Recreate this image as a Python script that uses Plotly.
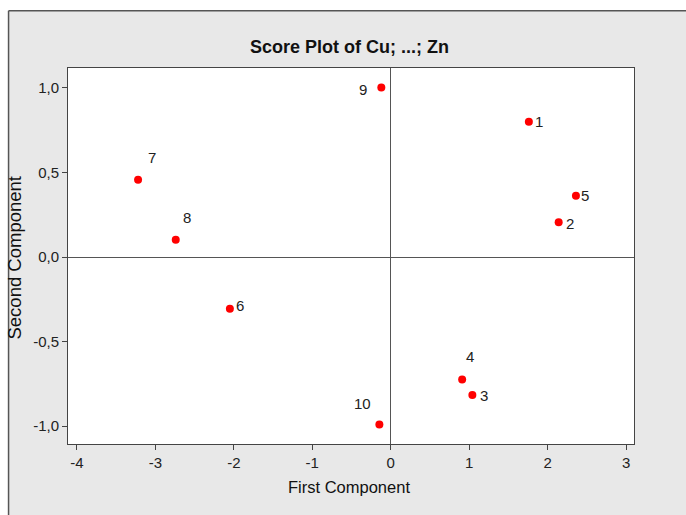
import plotly.graph_objects as go

# Data
obs_labels = ["1", "2", "3", "4", "5", "6", "7", "8", "9", "10"]
first_comp = [1.76, 2.14, 1.04, 0.91, 2.36, -2.05, -3.22, -2.74, -0.12, -0.145]
second_comp = [0.80, 0.206, -0.816, -0.724, 0.363, -0.305, 0.458, 0.102, 1.003, -0.99]
x_ticks = [-4, -3, -2, -1, 0, 1, 2, 3]
x_ticktext = ["-4", "-3", "-2", "-1", "0", "1", "2", "3"]
y_ticks = [-1.0, -0.5, 0.0, 0.5, 1.0]
y_ticktext = ["-1,0", "-0,5", "0,0", "0,5", "1,0"]

# label offsets in pixels (style)
label_shift = {
    "1": (10, 0), "2": (11, -1), "3": (12, 0), "4": (8, 23), "5": (9, 0),
    "6": (10, 3), "7": (14, 22), "8": (11, 22), "9": (-18, -2), "10": (-17, 21),
}

W, H = 686, 515
L, R, T, B = 67.5, 634, 67.5, 444.5
pw, ph = R - L, B - T

def px(x):
    return (x - L) / pw

def py(y):
    return (B - y) / ph

FONT = "Liberation Sans, Arial, sans-serif"

fig = go.Figure()
fig.add_trace(go.Scatter(
    x=first_comp, y=second_comp, mode="markers",
    marker=dict(color="#FF0000", size=8, line=dict(width=0)),
    hoverinfo="skip", showlegend=False,
))

annotations = []
for lab, xv, yv in zip(obs_labels, first_comp, second_comp):
    dx, dy = label_shift[lab]
    annotations.append(dict(
        x=xv, y=yv, xref="x", yref="y", text=lab, showarrow=False,
        xanchor="center", yanchor="middle",
        xshift=dx, yshift=dy, font=dict(family=FONT, size=15, color="#222"),
    ))

# title and axis titles
annotations.append(dict(
    x=px(349), y=py(46), xref="paper", yref="paper", text="<b>Score Plot of Cu; ...; Zn</b>",
    xanchor="center", yanchor="middle",
    showarrow=False, font=dict(family=FONT, size=18, color="#111"),
))
annotations.append(dict(
    x=px(349), y=py(488), xref="paper", yref="paper", text="First Component",
    xanchor="center", yanchor="middle",
    showarrow=False, font=dict(family=FONT, size=16.5, color="#111"),
))
annotations.append(dict(
    x=px(14), y=py(258), xref="paper", yref="paper", text="Second Component",
    xanchor="center", yanchor="middle",
    showarrow=False, textangle=-90, font=dict(family=FONT, size=18.5, color="#111"),
))

shapes = [
    # white strips outside the outer border
    dict(type="rect", xref="paper", yref="paper", x0=px(-20), x1=px(720), y0=py(10), y1=py(-20),
         fillcolor="white", line=dict(width=0), layer="below"),
    dict(type="rect", xref="paper", yref="paper", x0=px(-20), x1=px(8), y0=py(540), y1=py(-20),
         fillcolor="white", line=dict(width=0), layer="below"),
    # outer border lines
    dict(type="line", xref="paper", yref="paper", x0=px(8), x1=px(720), y0=py(10), y1=py(10),
         line=dict(color="#555", width=1.5)),
    dict(type="line", xref="paper", yref="paper", x0=px(8), x1=px(8), y0=py(10), y1=py(540),
         line=dict(color="#555", width=1.5)),
]

fig.update_layout(
    width=W, height=H,
    margin=dict(l=L, r=W - R, t=T, b=H - B, pad=0),
    paper_bgcolor="#E8E8E8", plot_bgcolor="white",
    annotations=annotations, shapes=shapes,
    font=dict(family=FONT, size=14, color="#222"),
)
fig.update_xaxes(
    range=[-4.113, 3.10], tickvals=x_ticks, ticktext=x_ticktext, ticks="outside", ticklen=5,
    tickcolor="#444", showline=True, linecolor="#444", linewidth=1, mirror=True, showgrid=False,
    zeroline=True, zerolinecolor="#555", zerolinewidth=1,
    tickfont=dict(family=FONT, size=15, color="#222"),
)
fig.update_yaxes(
    range=[-1.105, 1.118], tickvals=y_ticks, ticktext=y_ticktext, ticks="outside", ticklen=5,
    tickcolor="#444", showline=True, linecolor="#444", linewidth=1, mirror=True, showgrid=False,
    zeroline=True, zerolinecolor="#555", zerolinewidth=1,
    tickfont=dict(family=FONT, size=15, color="#222"),
)

fig.write_html("out.html", config={"displayModeBar": False},
               post_script="document.body.style.margin='0';")
